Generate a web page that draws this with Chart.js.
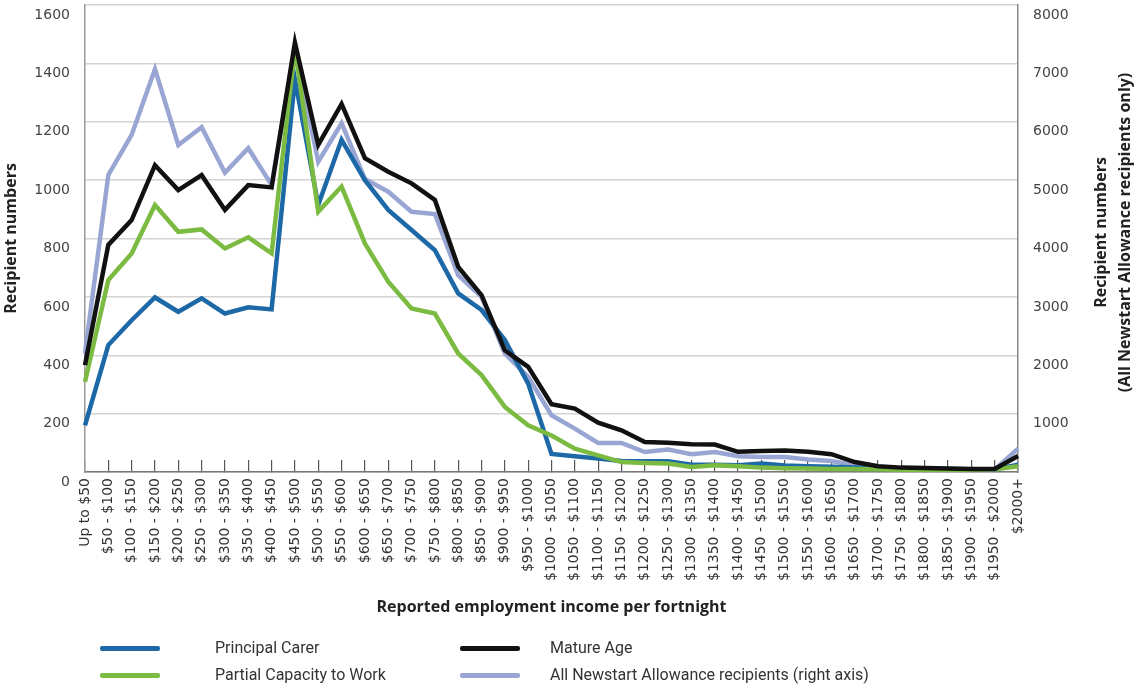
<!DOCTYPE html>
<html>
<head>
<meta charset="utf-8">
<script src="https://cdn.jsdelivr.net/npm/chart.js@4.4.0/dist/chart.umd.min.js"></script>
<style>
  body { margin: 0; background: #fff; font-family: Roboto, "Open Sans", sans-serif; }
  #wrap { position: relative; width: 1134px; height: 630px; }
  #legend { position: absolute; left: 0; top: 0; width: 1134px; height: 686px; pointer-events: none; }
  .item { position: absolute; font-size: 16px; color: #333; white-space: nowrap; }
  .item .sample { position: absolute; width: 60px; height: 5px; border-radius: 2px; }
</style>
</head>
<body>
<div id="wrap"><canvas id="canvas"></canvas></div>
<div id="legend"></div>
<script>
// Données -----------------------------------------------------
var categories = ['Up to $50', '$50 - $100', '$100 - $150', '$150 - $200', '$200 - $250', '$250 - $300',
  '$300 - $350', '$350 - $400', '$400 - $450', '$450 - $500', '$500 - $550', '$550 - $600', '$600 - $650',
  '$650 - $700', '$700 - $750', '$750 - $800', '$800 - $850', '$850 - $900', '$900 - $950', '$950 - $1000',
  '$1000 - $1050', '$1050 - $1100', '$1100 - $1150', '$1150 - $1200', '$1200 - $1250', '$1250 - $1300',
  '$1300 - $1350', '$1350 - $1400', '$1400 - $1450', '$1450 - $1500', '$1500 - $1550', '$1550 - $1600',
  '$1600 - $1650', '$1650 - $1700', '$1700 - $1750', '$1750 - $1800', '$1800 - $1850', '$1850 - $1900',
  '$1900 - $1950', '$1950 - $2000', '$2000+'];

var principalCarer = [160, 435, 520, 598, 549, 595, 543, 564, 557, 1345, 915, 1138, 1000, 898, 829, 760, 612, 555, 452, 303,
  62, 54, 46, 38, 37, 37, 25, 25, 23, 29, 22, 20, 18, 15, 13, 12, 10, 10, 9, 9, 25];
var matureAge = [366, 778, 863, 1051, 966, 1017, 898, 983, 975, 1471, 1121, 1261, 1075, 1029, 989, 932, 703, 606, 417, 360,
  232, 217, 169, 143, 103, 100, 95, 94, 69, 72, 74, 69, 61, 34, 20, 15, 14, 12, 10, 10, 55];
var partialCapacity = [309, 658, 749, 915, 823, 831, 766, 804, 749, 1452, 892, 978, 783, 652, 560, 543, 406, 332, 223, 160,
  125, 80, 57, 34, 31, 29, 17, 23, 20, 15, 13, 12, 10, 10, 9, 8, 8, 8, 8, 9, 20];
// axe de droite
var allNewstart = [2030, 5089, 5775, 6901, 5603, 5906, 5128, 5546, 4917, 7250, 5317, 5975, 5020, 4802, 4459, 4420, 3373, 3001, 2030, 1629,
  972, 744, 497, 497, 343, 384, 304, 343, 269, 257, 257, 213, 189, 115, 75, 55, 45, 40, 35, 40, 400];

var leftTicks = [0, 1600, 200];   // min, max, pas
var rightTicks = [0, 8000, 1000];

// Titre de l'axe de droite (lu de bas en haut) ------------------
var rightTitle = {
  id: 'rightTitle',
  afterDraw: function (chart) {
    var c = chart.ctx;
    var mid = (chart.chartArea.top + chart.chartArea.bottom) / 2 - 6;
    c.save();
    c.fillStyle = '#222';
    c.font = 'bold 16px "Open Sans", sans-serif';
    c.textAlign = 'center';
    c.textBaseline = 'middle';
    c.translate(1101, mid);
    c.rotate(-Math.PI / 2);
    c.fillText('Recipient numbers', 0, 0);
    c.fillText('(All Newstart Allowance recipients only)', 0, 24);
    c.restore();
  }
};

var ctx = document.getElementById('canvas').getContext('2d');

var myChart = new Chart(ctx, {
  type: 'line',
  data: {
    labels: categories,
    datasets: [
      { label: 'Principal Carer', data: principalCarer, borderColor: '#1d68a6', yAxisID: 'y', order: 3 },
      { label: 'Mature Age', data: matureAge, borderColor: '#111111', yAxisID: 'y', order: 1 },
      { label: 'Partial Capacity to Work', data: partialCapacity, borderColor: '#7cbb41', yAxisID: 'y', order: 2 },
      { label: 'All Newstart Allowance recipients (right axis)', data: allNewstart, borderColor: '#99a5d3', yAxisID: 'y2', order: 4 }
    ]
  },
  options: {
    responsive: true,
    maintainAspectRatio: false,
    animation: false,
    layout: { padding: { top: 5 } },
    elements: {
      line: { borderWidth: 4.5, tension: 0, fill: false },
      point: { radius: 0, hoverRadius: 0 }
    },
    plugins: {
      legend: { display: false },
      tooltip: { enabled: false }
    },
    scales: {
      x: {
        offset: false,
        grid: { drawOnChartArea: false, drawTicks: true, tickLength: -12, color: '#555', lineWidth: 1.2 },
        border: { color: '#777', width: 1.5 },
        ticks: {
          autoSkip: false, maxRotation: 90, minRotation: 90, padding: 18,
          color: '#333', font: { family: '"DejaVu Sans"', size: 14 }
        },
        title: {
          display: true, text: 'Reported employment income per fortnight', color: '#222',
          font: { family: '"Open Sans"', size: 16, weight: 'bold' }, padding: { top: 4, bottom: 13 }
        },
        afterFit: function (s) { s.height = 158; }
      },
      y: {
        position: 'left',
        min: leftTicks[0], max: leftTicks[1],
        grid: { color: '#d4d4d4', lineWidth: 1.5, drawTicks: false },
        border: { color: '#999', width: 1.5 },
        ticks: {
          stepSize: leftTicks[2], padding: 15, labelOffset: 10,
          color: '#444', font: { family: '"DejaVu Sans"', size: 14 },
          callback: function (v) { return String(v); }
        },
        title: {
          display: true, text: 'Recipient numbers', color: '#222',
          font: { family: '"Open Sans"', size: 16, weight: 'bold' }, padding: { top: 2, bottom: 4 }
        },
        afterFit: function (s) { s.width = 85; s.paddingTop = 0; s.paddingBottom = 0; }
      },
      y2: {
        position: 'right',
        min: rightTicks[0], max: rightTicks[1],
        grid: { drawOnChartArea: false, drawTicks: false },
        border: { color: '#888', width: 1.5 },
        ticks: {
          stepSize: rightTicks[2], padding: 15, labelOffset: 10,
          color: '#444', font: { family: '"DejaVu Sans"', size: 14 },
          callback: function (v) { return v === 0 ? '' : String(v); }
        },
        afterFit: function (s) { s.width = 116; s.paddingTop = 0; s.paddingBottom = 0; }
      }
    }
  },
  plugins: [rightTitle]
});

// Légende en deux colonnes, faite à partir des datasets ---------
var slots = [[100, 648], [460, 648], [100, 675], [460, 675]];
var legend = document.getElementById('legend');
myChart.data.datasets.forEach(function (ds, i) {
  var pos = slots[i];
  var item = document.createElement('div');
  item.className = 'item';
  item.style.left = pos[0] + 'px';
  item.style.top = (pos[1] - 10) + 'px';
  var sample = document.createElement('div');
  sample.className = 'sample';
  sample.style.background = ds.borderColor;
  sample.style.left = '0px';
  sample.style.top = '8px';
  var txt = document.createElement('span');
  txt.textContent = ds.label;
  txt.style.marginLeft = (i % 2 === 0 ? 115 : 90) + 'px';
  item.appendChild(sample);
  item.appendChild(txt);
  legend.appendChild(item);
});
</script>
</body>
</html>
